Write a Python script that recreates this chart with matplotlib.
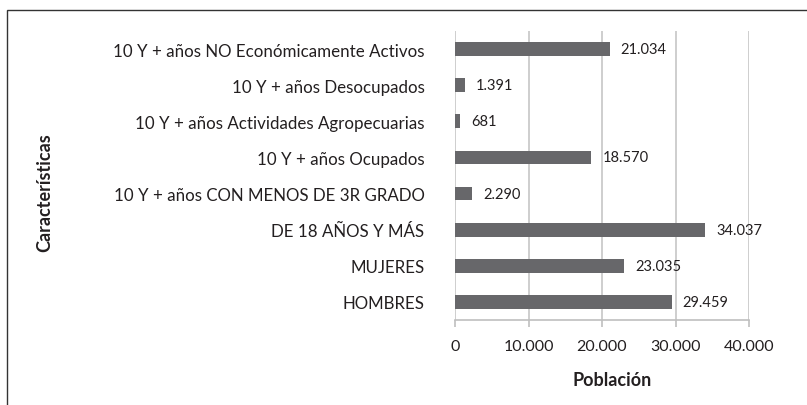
import matplotlib
matplotlib.use("Agg")
import matplotlib.pyplot as plt
from matplotlib.patches import Rectangle

categories = [
    "HOMBRES",
    "MUJERES",
    "DE 18 AÑOS Y MÁS",
    "10 Y + años CON MENOS DE 3R GRADO",
    "10 Y + años Ocupados",
    "10 Y + años Actividades Agropecuarias",
    "10 Y + años Desocupados",
    "10 Y + años NO Económicamente Activos",
]
values = [29459, 23035, 34037, 2290, 18570, 681, 1391, 21034]
value_labels = ["29.459", "23.035", "34.037", "2.290", "18.570", "681", "1.391", "21.034"]
xticks = [0, 10000, 20000, 30000, 40000]
xtick_labels = ["0", "10.000", "20.000", "30.000", "40.000"]

plt.rcParams['font.family'] = ['Lato', 'DejaVu Sans']

W, H = 807, 406
fig = plt.figure(figsize=(W / 100, H / 100), dpi=100)
fig.patches.append(Rectangle((7 / W, -0.5), 2, 1.5 - 11 / H, transform=fig.transFigure,
                             fill=False, edgecolor="#333333", linewidth=1.0))

ax = fig.add_axes([455 / W, 1 - 321 / H, (749 - 455) / W, (321 - 32) / H])
y = list(range(len(categories)))
ax.barh(y, values, height=0.38, color="#67676a", zorder=3)
for yi, v, lab in zip(y, values, value_labels):
    ax.text(v + 1500, yi, lab, va="center", ha="left", fontsize=10.5, color="#231f20")

ax.set_xlim(0, 40000)
ax.set_ylim(-0.5, len(categories) - 0.5)
ax.set_xticks(xticks)
ax.set_xticklabels(xtick_labels, fontsize=11.5, color="#231f20")
ax.set_yticks(y)
ax.set_yticklabels(categories, fontsize=12.2, color="#231f20")
ax.tick_params(axis="y", length=0, pad=22)
ax.tick_params(axis="x", length=5, color="#bfbfbf", width=1.2, pad=9)
ax.grid(axis="x", color="#c6c6c6", linewidth=1.2, zorder=0)
for s in ["top", "right", "left"]:
    ax.spines[s].set_visible(False)
ax.spines["bottom"].set_color("#bfbfbf")
ax.spines["bottom"].set_linewidth(1.2)

fig.text(612 / W, 1 - 381 / H, "Población", ha="center", va="center",
         fontsize=13, fontweight="bold", color="#231f20")
fig.text(45 / W, 1 - 193 / H, "Características", ha="center", va="center",
         rotation=90, fontsize=13, fontweight="bold", color="#231f20")

fig.savefig("out.png", dpi=100)
